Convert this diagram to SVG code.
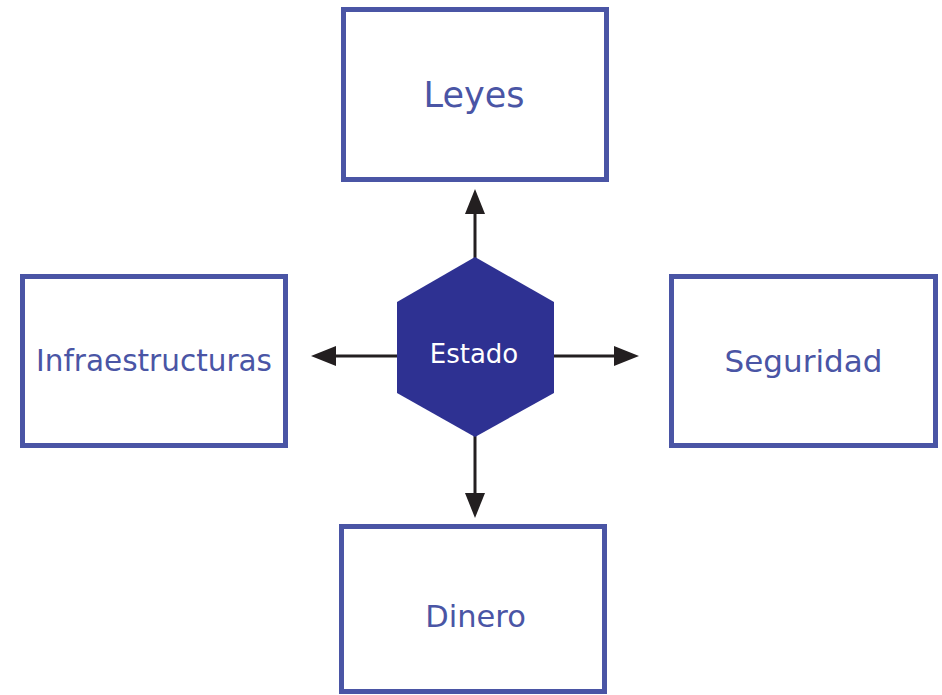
<svg xmlns="http://www.w3.org/2000/svg" width="942" height="695" viewBox="0 0 942 695">
<style>
.box{fill:#ffffff;stroke:#4a55a5;stroke-width:5}
.lbl{font-family:"DejaVu Sans",Verdana,sans-serif;fill:#4a55a5;text-anchor:middle}
.conn{stroke:#231f20;stroke-width:3;fill:none}
.head{fill:#231f20}
</style>
<rect width="942" height="695" fill="#ffffff"/>
<g id="connectors">
<line class="conn" x1="475" y1="260" x2="475" y2="210"/>
<polygon class="head" points="475,189 465,214 485,214"/>
<line class="conn" x1="475" y1="435" x2="475" y2="497"/>
<polygon class="head" points="475,518 465,493 485,493"/>
<line class="conn" x1="400" y1="356" x2="332" y2="356"/>
<polygon class="head" points="311,356 336,346 336,366"/>
<line class="conn" x1="551" y1="356" x2="618" y2="356"/>
<polygon class="head" points="639,356 614,346 614,366"/>
</g>
<g id="node-leyes">
<rect class="box" x="343.5" y="9.5" width="263" height="170"/>
<text class="lbl" x="474" y="107" font-size="35">Leyes</text>
</g>
<g id="node-infraestructuras">
<rect class="box" x="22.5" y="276.5" width="263" height="169"/>
<text class="lbl" x="154" y="371" font-size="29.5">Infraestructuras</text>
</g>
<g id="node-seguridad">
<rect class="box" x="671.5" y="276.5" width="264" height="169"/>
<text class="lbl" x="803.5" y="372" font-size="31">Seguridad</text>
</g>
<g id="node-dinero">
<rect class="box" x="341.5" y="526.5" width="263" height="165"/>
<text class="lbl" x="475.5" y="627" font-size="30.5">Dinero</text>
</g>
<g id="node-estado">
<polygon fill="#2e3192" points="475,257 554,302 554,393 475,437 397,393 397,302"/>
<text x="474" y="363" font-family="'DejaVu Sans',Verdana,sans-serif" font-size="26" fill="#ffffff" text-anchor="middle">Estado</text>
</g>
</svg>
